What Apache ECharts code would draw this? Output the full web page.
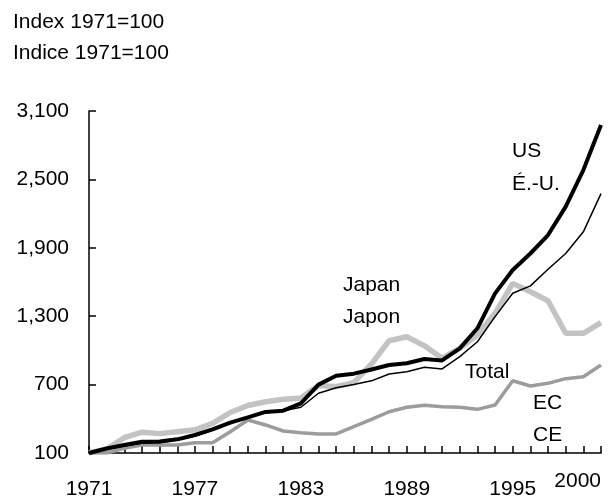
<!DOCTYPE html>
<html>
<head>
<meta charset="utf-8">
<script src="https://cdn.jsdelivr.net/npm/echarts@6/dist/echarts.min.js"></script>
<style>
html,body{margin:0;padding:0;background:#fff;}
#chart{width:608px;height:500px;}
</style>
</head>
<body>
<div id="chart"></div>
<script>
const years = ['1971','1972','1973','1974','1975','1976','1977','1978','1979','1980',
  '1981','1982','1983','1984','1985','1986','1987','1988','1989','1990',
  '1991','1992','1993','1994','1995','1996','1997','1998','1999','2000'];
const labelYears = ['1971','1977','1983','1989','1995','2000'];
const yTicks = [100, 700, 1300, 1900, 2500, 3100];

const usValues = [100, 140, 170, 199, 200, 220, 258, 308, 366, 413, 460, 471, 536, 700, 778, 796, 832, 872, 887, 924, 912, 1018, 1194, 1500, 1705, 1850, 2012, 2261, 2582, 2977];
const totalValues = [100, 132, 161, 185, 190, 214, 249, 302, 360, 413, 455, 470, 501, 624, 672, 700, 733, 793, 813, 852, 837, 945, 1076, 1296, 1501, 1566, 1712, 1850, 2040, 2375];
const japanValues = [100, 135, 234, 283, 270, 287, 303, 360, 455, 517, 550, 571, 582, 693, 682, 717, 881, 1085, 1120, 1040, 931, 1018, 1135, 1325, 1588, 1515, 1436, 1150, 1150, 1243];
const ecValues = [100, 100, 141, 170, 170, 170, 190, 190, 287, 389, 346, 293, 278, 267, 267, 331, 395, 462, 501, 518, 506, 501, 483, 521, 734, 688, 711, 752, 769, 872];

const titleLines = ['Index 1971=100', 'Indice 1971=100'];
const FONT = 'Liberation Sans, Arial, sans-serif';
const FS = 21;

const chart = echarts.init(document.getElementById('chart'), null, {renderer: 'canvas'});

function txt(text, left, y) {
  return {
    type: 'text', left: left, top: y - 10.5,
    style: { text: text, fill: '#000', font: FS + 'px ' + FONT }
  };
}

chart.setOption({
  animation: false,
  backgroundColor: '#fff',
  title: {
    text: titleLines.join('\n'),
    left: 13, top: 6, padding: 0,
    textStyle: { fontFamily: FONT, fontSize: 21, fontWeight: 'normal', color: '#000', lineHeight: 31.5 }
  },
  grid: { left: 89, right: 7, top: 111, bottom: 47 },
  xAxis: {
    type: 'category',
    data: years,
    boundaryGap: false,
    axisLine: { lineStyle: { color: '#000', width: 1.5 } },
    axisTick: { inside: true, length: 7, interval: 0, lineStyle: { color: '#000', width: 1.5 } },
    axisLabel: {
      interval: (i, v) => labelYears.includes(v),
      margin: 18,
      alignMaxLabel: 'right',
      formatter: v => v === '2000' ? '{b|' + v + '}' : '{a|' + v + '}',
      rich: {
        a: { fontFamily: FONT, fontSize: FS, color: '#000', padding: [8, 0, 0, 0] },
        b: { fontFamily: FONT, fontSize: FS, color: '#000', padding: [0, 0, 0, 0] }
      }
    },
    splitLine: { show: false }
  },
  yAxis: {
    type: 'value',
    min: 100, max: 3100,
    axisLine: { show: true, lineStyle: { color: '#000', width: 1.5 } },
    axisTick: { show: true, inside: true, length: 7, customValues: yTicks, lineStyle: { color: '#000', width: 1.5 } },
    axisLabel: {
      customValues: yTicks,
      margin: 20,
      fontFamily: FONT, fontSize: FS, color: '#000',
      formatter: v => v.toLocaleString('en-US')
    },
    splitLine: { show: false }
  },
  series: [
    { name: 'Japan', type: 'line', data: japanValues, symbol: 'none',
      lineStyle: { color: '#c3c3c3', width: 5.5 } },
    { name: 'EC', type: 'line', data: ecValues, symbol: 'none',
      lineStyle: { color: '#9c9c9c', width: 3.5 } },
    { name: 'Total', type: 'line', data: totalValues, symbol: 'none',
      lineStyle: { color: '#000', width: 1.5 } },
    { name: 'US', type: 'line', data: usValues, symbol: 'none',
      lineStyle: { color: '#000', width: 4 } }
  ],
  graphic: [
    txt('US', 512, 151),
    txt('É.-U.', 512, 184),
    txt('Japan', 343, 285),
    txt('Japon', 343, 317),
    txt('Total', 465, 372),
    txt('EC', 533, 403),
    txt('CE', 533, 435)
  ]
});
</script>
</body>
</html>
